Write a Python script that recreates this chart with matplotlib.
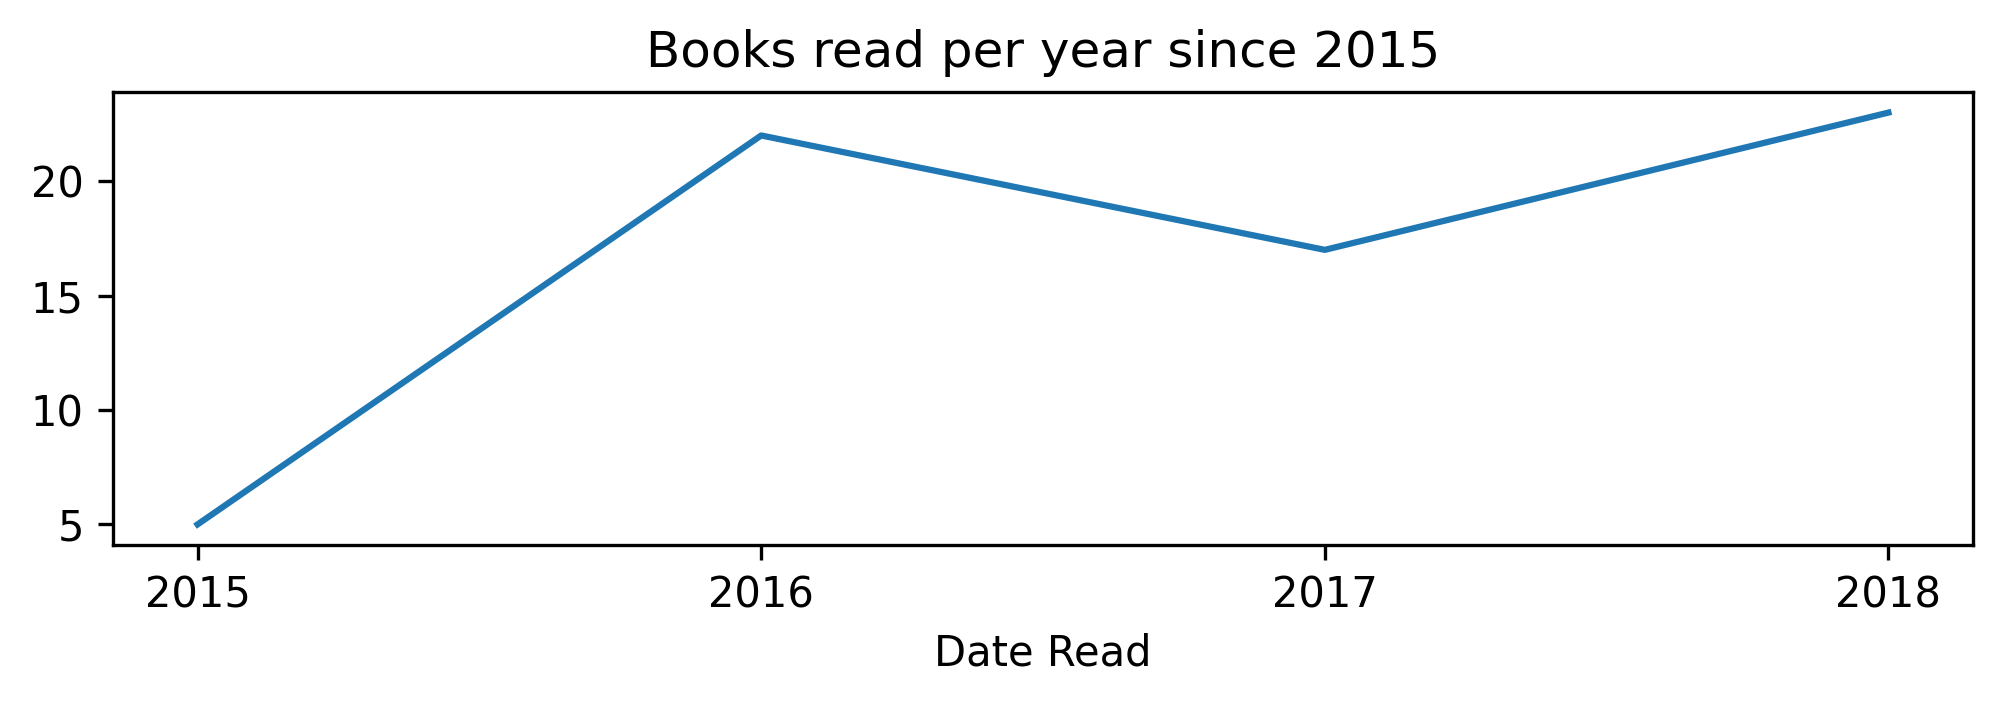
import matplotlib
matplotlib.use('Agg')
import matplotlib.pyplot as plt

anos = [2015, 2016, 2017, 2018]
livros = [5, 22, 17, 23]

fig, ax = plt.subplots(figsize=(2005 / 300, 705 / 300), dpi=300)
fig.subplots_adjust(left=113 / 2005, right=1973 / 2005, top=1 - 92 / 705, bottom=1 - 545 / 705)

ax.plot(anos, livros)
ax.set_xticks(anos)
ax.set_xlabel('Date Read')
ax.set_title('Books read per year since 2015')

fig.savefig('out.png', dpi=300)
